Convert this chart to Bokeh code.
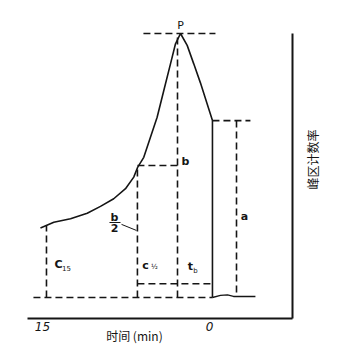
import math
from bokeh.plotting import figure
from bokeh.models import Range1d, FixedTicker
from bokeh.core.properties import value
from bokeh.embed import file_html
from bokeh.resources import INLINE

# ---- data (time in min before 0, count rate with peak = 100)
curve_t = [15.18, 13.98, 12.48, 10.98, 9.79, 8.60, 7.54, 6.80, 6.44, 5.90, 5.30,
           4.70, 4.10, 3.50, 3.05, 2.60, 2.00, 1.41, 0.81, 0.21, -0.27, -0.27]
curve_y = [26.3, 28.5, 29.8, 31.9, 34.5, 37.4, 41.2, 45.6, 49.4, 53.1, 60.7,
           68.3, 78.4, 88.5, 96.1, 100.0, 95.5, 88.5, 81.3, 73.4, 67.0, 0.0]
tail_t = [-0.27, -0.99, -1.62, -2.16, -4.13]
tail_y = [0.0, 0.8, 1.0, 0.4, 0.4]

# dashed construction lines: (t0, y0) -> (t1, y1)
guide_t0 = [15.81, 14.64, 6.47, 6.47, 2.87, 5.93, 6.47, -0.27, -2.43]
guide_y0 = [0.0, 0.0, 0.0, 50.0, 0.0, 100.0, 5.2, 67.0, 67.0]
guide_t1 = [-0.27, 14.64, 6.47, 2.87, 2.87, -0.54, -0.27, -3.68, -2.43]
guide_y1 = [0.0, 27.3, 50.0, 50.0, 100.0, 100.0, 5.2, 67.0, 0.4]

# text labels
lab_t = [2.16, 8.53, 8.53, -3.14, 13.56, 5.75, 1.71]
lab_y = [51.5, 30.3, 26.5, 30.7, 12.5, 12.1, 11.7]
lab_s = ["b", "b", "2", "a", "C", "c", "t"]
sub_t = [12.84, 4.94, 1.26]
sub_y = [11.0, 11.4, 10.2]
sub_s = ["15", "½", "b"]
frac_t = [8.98, 7.99]
frac_y = [28.4, 28.4]
leader_t = [7.90, 6.56]
leader_y = [27.7, 25.4]

# axes
x_ticks = [15, 0]
axis_t_span = (-7.46, 16.35)
axis_y_span = (-7.95, 100.0)
x_title = "时间 (min)"
x_title_pos = (6.74, -14.4)
y_title = "峰区计数率"
y_title_pos = (-9.25, 52.3)
peak_label = "P"
peak_label_pos = (2.60, 103.0)

INK = "#151515"

p = figure(width=354, height=359, output_backend="svg", toolbar_location=None,
           x_range=Range1d(18.77, -13.03), y_range=Range1d(-23.49, 112.5),
           x_axis_location="below", y_axis_location="right",
           min_border=0, min_border_left=0, min_border_right=0,
           min_border_top=0, min_border_bottom=0)
p.background_fill_color = "white"
p.border_fill_color = "white"
p.outline_line_color = None
p.grid.visible = False

xa = p.xaxis[0]
xa.fixed_location = axis_y_span[0]
xa.bounds = axis_t_span
xa.ticker = FixedTicker(ticks=x_ticks)
xa.axis_line_width = 2
xa.axis_line_color = INK
xa.major_tick_line_color = None
xa.minor_tick_line_color = None
xa.major_tick_out = 0
xa.major_tick_in = 0
xa.major_label_standoff = 4
xa.major_label_text_font = "DejaVu Sans"
xa.major_label_text_font_style = "italic"
xa.major_label_text_font_size = "12px"
xa.major_label_text_color = INK

ya = p.yaxis[0]
ya.fixed_location = axis_t_span[0]
ya.bounds = axis_y_span
ya.ticker = FixedTicker(ticks=[])
ya.axis_line_width = 2
ya.axis_line_color = INK
ya.major_tick_line_color = None
ya.minor_tick_line_color = None
ya.major_label_text_font_size = "0px"

p.segment(x0=guide_t0, y0=guide_y0, x1=guide_t1, y1=guide_y1,
          line_color=INK, line_width=1.6, line_dash="7 4")
p.line(curve_t, curve_y, line_color=INK, line_width=1.6)
p.line(tail_t, tail_y, line_color=INK, line_width=1.4)
p.line(frac_t, frac_y, line_color=INK, line_width=1.2)
p.line(leader_t, leader_y, line_color=INK, line_width=1)

p.text(x=lab_t, y=lab_y, text=lab_s, text_font=value("DejaVu Sans"),
       text_font_style="bold", text_font_size="11px", text_color=INK,
       text_align="center", text_baseline="middle")
p.text(x=sub_t, y=sub_y, text=sub_s, text_font=value("DejaVu Sans"),
       text_font_size="7px", text_color=INK,
       text_align="center", text_baseline="middle")
p.text(x=[peak_label_pos[0]], y=[peak_label_pos[1]], text=[peak_label],
       text_font=value("DejaVu Sans"), text_font_size="11px", text_color=INK,
       text_align="center", text_baseline="middle")
p.text(x=[x_title_pos[0]], y=[x_title_pos[1]], text=[x_title],
       text_font=value("Noto Sans CJK SC"), text_font_size="12px", text_color=INK,
       text_align="center", text_baseline="middle")
p.text(x=[y_title_pos[0]], y=[y_title_pos[1]], text=[y_title],
       text_font=value("Noto Sans CJK SC"), text_font_size="12px", text_color=INK,
       angle=math.pi / 2, text_align="center", text_baseline="middle")

open("out.html", "w").write(file_html(p, INLINE))
